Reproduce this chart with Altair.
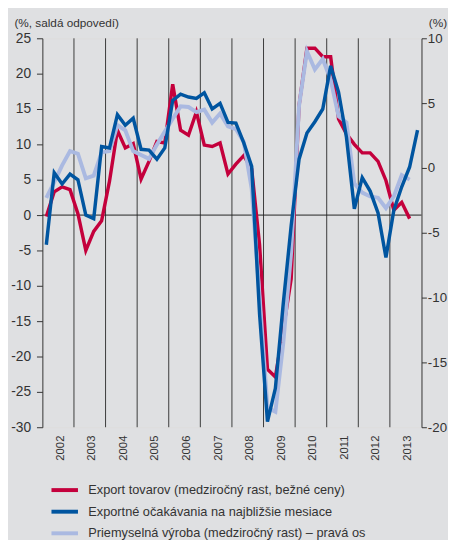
import altair as alt
import pandas as pd

years = list(range(2002, 2014))

red_vals = [-0.2, 3.3, 4.0, 3.6,
            0.2, -5.0, -2.3, -0.8,
            4.8, 12.0, 9.5, 10.1,
            5.1, 7.6, 10.4, 10.2,
            18.5, 12.0, 11.3, 14.6,
            9.9, 9.7, 10.2, 5.8,
            7.2, 8.4, 6.5, -4.2,
            -21.8, -22.9, -16.2, -9.0,
            15.5, 23.6, 23.6, 22.4,
            22.4, 13.6, 11.5, 10.0,
            8.8, 8.8, 7.6, 4.9,
            0.7, 1.8, -0.5]

blue_vals = [-4.2, 6.0, 4.4, 5.8,
             5.0, 0.0, -0.5, 9.7,
             9.5, 14.2, 12.7, 13.7,
             9.3, 9.2, 7.9, 9.5,
             16.2, 17.1, 16.7, 16.5,
             17.3, 15.0, 15.8, 13.1,
             13.0, 10.2, 6.9, -14.0,
             -29.2, -24.5, -12.5, -1.5,
             7.9, 11.6, 13.2, 15.0,
             21.1, 17.4, 11.0, 0.9,
             5.3, 3.4, 0.3, -6.0,
             0.7, 4.0, 6.8, 12.0]

lb_vals = [-2.3, -1.1, 0.2, 1.3,
           1.1, -0.8, -0.6, 1.2,
           1.3, 3.3, 2.9, 1.3,
           1.0, 0.7, 1.8, 2.8,
           3.8, 4.75, 4.7, 4.3,
           4.5, 3.5, 4.2, 3.2,
           3.0, 2.0, -1.6, -9.9,
           -18.5, -18.8, -13.5, -6.5,
           4.8, 9.0, 7.6, 8.4,
           6.8, 4.0, 3.5, -1.2,
           -1.9, -2.2, -2.3, -3.1,
           -2.2, -0.55, -0.9]

series_names = ["Export tovarov  (medziročný rast, bežné ceny)",
                "Exportné očakávania na najbližšie mesiace",
                "Priemyselná výroba (medziročný rast) – pravá os"]
colors = ["#c4003c", "#0055a0", "#aab9e1"]
left_ticks = [-30, -25, -20, -15, -10, -5, 0, 5, 10, 15, 20, 25]
right_ticks = [-20, -15, -10, -5, 0, 5, 10]
left_title = "(%, saldá odpovedí)"
right_title = "(%)"

FONT = "Liberation Sans"
TXT = "#333333"


def quarter_pos(n):
    return [years[0] + (i + 0.5) / 4 for i in range(n)]


red_df = pd.DataFrame({"t": quarter_pos(len(red_vals)), "v": red_vals, "s": series_names[0]})
blue_df = pd.DataFrame({"t": quarter_pos(len(blue_vals)), "v": blue_vals, "s": series_names[1]})
lb_df = pd.DataFrame({"t": quarter_pos(len(lb_vals)), "v": lb_vals, "s": series_names[2]})
yr_df = pd.DataFrame({"t": years[1:]})
zero_df = pd.DataFrame({"v": [0]})

xscale = alt.Scale(domain=[years[0], years[-1] + 1], nice=False, zero=False)
xaxis = alt.Axis(values=[y + 0.5 for y in years], labelExpr="'' + floor(datum.value)",
                 labelAngle=270, labelAlign="right", labelBaseline="middle",
                 ticks=False, domain=False, grid=False, labelPadding=8,
                 labelFontSize=11.5, labelColor=TXT, labelFont=FONT, title=None,
                 labelOffset=2)
X = alt.X("t:Q", scale=xscale, axis=xaxis)

lscale = alt.Scale(domain=[-30, 25], nice=False, zero=False)
laxis = alt.Axis(values=left_ticks, labelExpr="'' + datum.value", tickSize=6,
                 tickColor=TXT, domainColor=TXT, labelFontSize=14, labelColor=TXT,
                 labelFont=FONT, labelPadding=6, grid=False, orient="left",
                 title=left_title, titleAngle=0, titleAlign="left", titleX=-29,
                 titleY=-16, titleBaseline="middle", titleFontSize=12,
                 titleFontWeight="normal", titleColor=TXT, titleFont=FONT)
rscale = alt.Scale(domain=[-20, 10], nice=False, zero=False)
raxis = alt.Axis(values=right_ticks, labelExpr="'' + datum.value", tickSize=5,
                 tickColor=TXT, domainColor=TXT, labelFontSize=13.5, labelColor=TXT,
                 labelFont=FONT, labelPadding=1, grid=False, orient="right",
                 title=right_title, titleAngle=0, titleAlign="left", titleX=7,
                 titleY=-16, titleBaseline="middle", titleFontSize=12,
                 titleFontWeight="normal", titleColor=TXT, titleFont=FONT)

cscale = alt.Scale(domain=series_names, range=colors)
legend = alt.Legend(title=None, orient="none", legendX=13.75, legendY=451,
                    direction="vertical", symbolType="M-2,0H2", symbolSize=182,
                    symbolStrokeWidth=4, labelFontSize=13, labelColor=TXT,
                    labelFont=FONT, labelOffset=15, rowPadding=5, labelLimit=400)
C = alt.Color("s:N", scale=cscale, legend=legend)

rules = alt.Chart(yr_df).mark_rule(color="#3a3a3a", strokeWidth=1).encode(x=X)
zero = alt.Chart(zero_df).mark_rule(color="#222222", strokeWidth=1).encode(
    y=alt.Y("v:Q", scale=lscale, axis=laxis))
red = alt.Chart(red_df).mark_line(strokeWidth=3.5).encode(
    x=X, y=alt.Y("v:Q", scale=lscale, axis=laxis), color=C)
left = alt.layer(rules, zero, red)

lb = alt.Chart(lb_df).mark_line(strokeWidth=4).encode(
    x=X, y=alt.Y("v:Q", scale=rscale, axis=raxis), color=C)

blue = alt.Chart(blue_df).mark_line(strokeWidth=3.5).encode(
    x=X, y=alt.Y("v:Q", scale=lscale, axis=None), color=C)

chart = alt.layer(left, lb, blue).resolve_scale(y="independent").properties(
    width=386, height=396,
    padding={"left": 35, "top": 26, "right": 27, "bottom": 112},
    autosize=alt.AutoSizeParams(type="none"),
    background="#dfe0e2",
).configure_view(stroke=None).configure(font=FONT)

chart.save("out.html", embed_options={"renderer": "svg", "actions": False})
